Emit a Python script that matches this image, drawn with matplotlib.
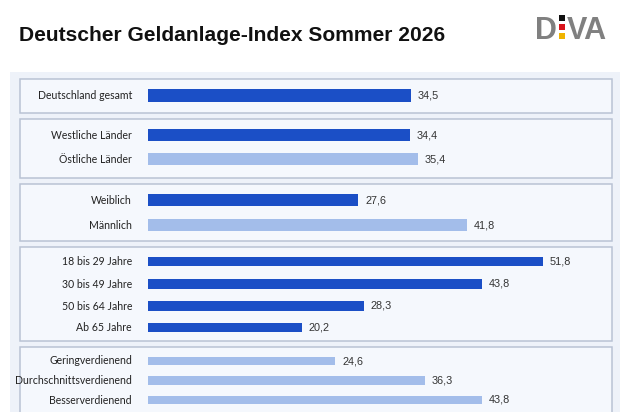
import matplotlib
matplotlib.use("Agg")
import matplotlib.pyplot as plt
from matplotlib.patches import Rectangle

# data
labels = ["Deutschland gesamt", "Westliche Länder", "Östliche Länder",
          "Weiblich", "Männlich",
          "18 bis 29 Jahre", "30 bis 49 Jahre", "50 bis 64 Jahre", "Ab 65 Jahre",
          "Geringverdienend", "Durchschnittsverdienend", "Besserverdienend"]
values = [34.5, 34.4, 35.4, 27.6, 41.8, 51.8, 43.8, 28.3, 20.2, 24.6, 36.3, 43.8]
shades = ["dark", "dark", "light", "dark", "light",
          "dark", "dark", "dark", "dark", "light", "light", "light"]
title = "Deutscher Geldanlage-Index Sommer 2026"

# layout (pixels, top-down)
W, H = 630, 412
row_y = [95.7, 135.2, 159.3, 200, 225, 261.7, 284, 306, 327.7, 361, 380.7, 400]
row_h = [12.5, 12.5, 12.0, 12.8, 12.2, 9.5, 9.5, 9.5, 9.5, 8.5, 8.5, 8.5]
boxes = [(79, 113), (118.5, 177.5), (183.5, 240.5), (246.5, 341), (346.5, 430)]
bar_left, box_right = 148, 611.5
px_per_unit = 7.62

colors = {"dark": "#1b4fc6", "light": "#a3bdea"}

fig = plt.figure(figsize=(W / 100, H / 100), dpi=100)
bg = fig.add_axes([0, 0, 1, 1])
bg.set_xlim(0, W)
bg.set_ylim(H, 0)
bg.axis("off")

# panel + group boxes
bg.add_patch(Rectangle((10, 72), 610, 360, facecolor="#eef2f9", edgecolor="none"))
for top, bottom in boxes:
    bg.add_patch(Rectangle((19.5, top), box_right - 19.5, bottom - top,
                           facecolor="#f5f8fd", edgecolor="#b9c3d4", linewidth=1.1))

# title
bg.text(19, 41, title, fontsize=15.1, fontweight="bold", color="#111111",
        family="Liberation Sans", va="baseline", ha="left")

# DIVA logo
bg.text(535, 39, "D", fontsize=22, fontweight="bold", color="#808080",
        family=["Liberation Sans Narrow", "Liberation Sans"], va="baseline")
for y0, c in [(14.5, "#111111"), (23.5, "#d9141c"), (32.5, "#f0b400")]:
    bg.add_patch(Rectangle((558.5, y0), 6.5, 6.5, facecolor=c, edgecolor="none"))
bg.text(567, 39, "VA", fontsize=22, fontweight="bold", color="#808080",
        family=["Liberation Sans Narrow", "Liberation Sans"], va="baseline")

# bars
ax = fig.add_axes([bar_left / W, 0, (box_right - bar_left) / W, 1])
ax.set_xlim(0, (box_right - bar_left) / px_per_unit)
ax.set_ylim(H, 0)
ax.axis("off")
ax.patch.set_alpha(0)

ax.barh(row_y, values, height=row_h, color=[colors[s] for s in shades])
for y, v, lab in zip(row_y, values, labels):
    ax.annotate(f"{v:.1f}".replace(".", ","), (v, y), xytext=(5, 0),
                textcoords="offset points", va="center", ha="left",
                fontsize=7.8, color="#333333", family="Liberation Sans")
    bg.text(132, y, lab, ha="right", va="center", fontsize=7.6,
            color="#222222", family="Lato")

fig.savefig("out.png", dpi=100)
